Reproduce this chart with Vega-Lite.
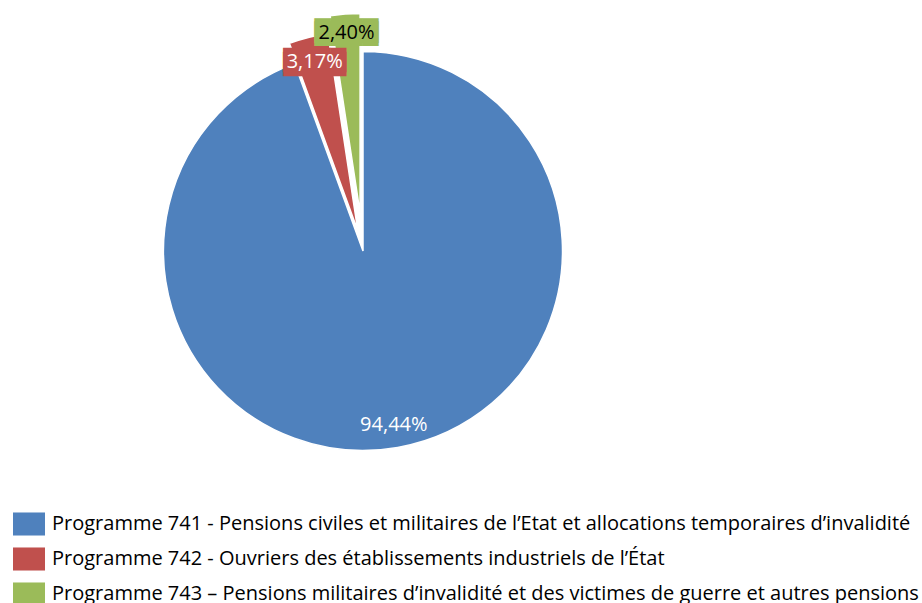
{
  "$schema": "https://vega.github.io/schema/vega-lite/v6.json",
  "width": 726,
  "height": 502,
  "autosize": {"type": "none"},
  "padding": {"left": 0, "top": 0, "right": 196, "bottom": 101},
  "background": "white",
  "view": {"stroke": null},
  "data": {
    "values": [
      {"label": "Programme 741 - Pensions civiles et militaires de l’Etat et allocations temporaires d’invalidité", "value": 94.44, "pct": "94,44%", "order": 1},
      {"label": "Programme 742 - Ouvriers des établissements industriels de l’État", "value": 3.17, "pct": "3,17%", "order": 2},
      {"label": "Programme 743 – Pensions militaires d’invalidité et des victimes de guerre et autres pensions", "value": 2.40, "pct": "2,40%", "order": 3}
    ]
  },
  "transform": [
    {"stack": "value", "groupby": [], "sort": [{"field": "order", "order": "ascending"}], "as": ["v0", "v1"]},
    {"calculate": "(datum.v0 + datum.v1) / 2", "as": "mid"}
  ],
  "layer": [
    {
      "transform": [{"filter": "datum.order == 1"}],
      "mark": {"type": "arc", "outerRadius": 199.5, "stroke": "white", "strokeWidth": 1.5},
      "encoding": {
        "theta": {"field": "v0", "type": "quantitative", "stack": null, "scale": {"domain": [0, 100.01]}},
        "theta2": {"field": "v1"},
        "color": {"field": "label", "type": "nominal", "scale": {"domain": ["Programme 741 - Pensions civiles et militaires de l’Etat et allocations temporaires d’invalidité", "Programme 742 - Ouvriers des établissements industriels de l’État", "Programme 743 – Pensions militaires d’invalidité et des victimes de guerre et autres pensions"], "range": ["#4F81BD", "#C0504D", "#9BBB59"]},
          "legend": {"orient": "none", "legendX": 13, "legendY": 508, "title": null, "symbolType": "M-1,-0.72H1V0.72H-1Z", "symbolSize": 1024, "symbolStrokeWidth": 0, "labelFont": "Open Sans", "labelFontSize": 20, "labelColor": "#000000", "labelLimit": 2000, "rowPadding": 7, "labelOffset": 7}}
      }
    },
    {
      "transform": [{"filter": "datum.order == 2"}],
      "mark": {"type": "arc", "outerRadius": 199.5, "stroke": "white", "strokeWidth": 1.5, "xOffset": -5.2, "yOffset": -20.3},
      "encoding": {
        "theta": {"field": "v0", "type": "quantitative", "stack": null, "scale": {"domain": [0, 100.01]}},
        "theta2": {"field": "v1"},
        "color": {"field": "label", "type": "nominal"}
      }
    },
    {
      "transform": [{"filter": "datum.order == 3"}],
      "mark": {"type": "arc", "outerRadius": 199.5, "stroke": "white", "strokeWidth": 1.5, "xOffset": -2.9, "yOffset": -37.9},
      "encoding": {
        "theta": {"field": "v0", "type": "quantitative", "stack": null, "scale": {"domain": [0, 100.01]}},
        "theta2": {"field": "v1"},
        "color": {"field": "label", "type": "nominal"}
      }
    },
    {
      "transform": [{"filter": "datum.order == 1"}],
      "mark": {"type": "text", "radius": 177, "font": "Open Sans", "fontSize": 20, "color": "white", "align": "center", "baseline": "middle"},
      "encoding": {
        "theta": {"field": "mid", "type": "quantitative", "stack": null, "scale": {"domain": [0, 100.01]}},
        "text": {"field": "pct"}
      }
    },
    {
      "transform": [{"filter": "datum.order == 2"}],
      "mark": {"type": "text", "radius": 195, "font": "DejaVu Sans", "fontSize": 20.5, "color": "#C0504D", "align": "center", "baseline": "middle", "dy": -1},
      "encoding": {
        "theta": {"field": "mid", "type": "quantitative", "stack": null, "scale": {"domain": [0, 100.01]}},
        "text": {"value": "████"}
      }
    },
    {
      "transform": [{"filter": "datum.order == 2"}],
      "mark": {"type": "text", "radius": 195, "font": "DejaVu Sans", "fontSize": 20.5, "color": "#C0504D", "align": "center", "baseline": "middle", "dy": 3},
      "encoding": {
        "theta": {"field": "mid", "type": "quantitative", "stack": null, "scale": {"domain": [0, 100.01]}},
        "text": {"value": "████"}
      }
    },
    {
      "transform": [{"filter": "datum.order == 2"}],
      "mark": {"type": "text", "radius": 195, "font": "Open Sans", "fontSize": 20, "color": "white", "align": "center", "baseline": "middle"},
      "encoding": {
        "theta": {"field": "mid", "type": "quantitative", "stack": null, "scale": {"domain": [0, 100.01]}},
        "text": {"field": "pct"}
      }
    },
    {
      "transform": [{"filter": "datum.order == 3"}],
      "mark": {"type": "text", "radius": 219, "font": "DejaVu Sans", "fontSize": 20.8, "color": "#9BBB59", "align": "center", "baseline": "middle", "dy": -1},
      "encoding": {
        "theta": {"field": "mid", "type": "quantitative", "stack": null, "scale": {"domain": [0, 100.01]}},
        "text": {"value": "████"}
      }
    },
    {
      "transform": [{"filter": "datum.order == 3"}],
      "mark": {"type": "text", "radius": 219, "font": "DejaVu Sans", "fontSize": 20.8, "color": "#9BBB59", "align": "center", "baseline": "middle", "dy": 2},
      "encoding": {
        "theta": {"field": "mid", "type": "quantitative", "stack": null, "scale": {"domain": [0, 100.01]}},
        "text": {"value": "████"}
      }
    },
    {
      "transform": [{"filter": "datum.order == 3"}],
      "mark": {"type": "text", "radius": 219, "font": "Open Sans", "fontSize": 20, "color": "black", "align": "center", "baseline": "middle"},
      "encoding": {
        "theta": {"field": "mid", "type": "quantitative", "stack": null, "scale": {"domain": [0, 100.01]}},
        "text": {"field": "pct"}
      }
    }
  ]
}
